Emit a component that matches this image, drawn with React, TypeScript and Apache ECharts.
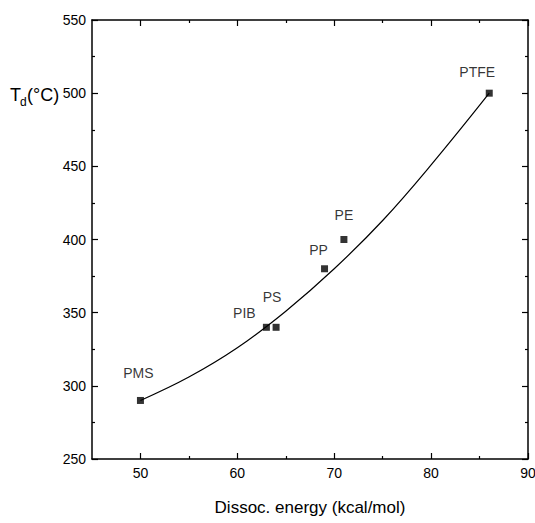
import React, { useEffect, useRef } from "react";
import * as echarts from "echarts";

const polymers = ["PMS", "PIB", "PS", "PP", "PE", "PTFE"];
const dissocEnergy = [50, 63, 64, 69, 71, 86];
const decompTemp = [290, 340, 340, 380, 400, 500];

const fitEnergy = [50, 55, 60, 65, 70, 75, 80, 86];
const fitTemp = [290, 306, 326, 351, 380, 413, 451, 500];

const xMajorTicks = [50, 60, 70, 80, 90];
const xMinorTicks = [55, 65, 75, 85];
const yMajorTicks = [250, 300, 350, 400, 450, 500, 550];
const yMinorTicks = [275, 325, 375, 425, 475, 525];

// label placement offsets (style only)
const labelOffsets: [number, number][] = [
  [-2, -27],
  [-22, -14],
  [-4, -30],
  [-6, -19],
  [0, -25],
  [-12, -21],
];

const FONT = '"Liberation Sans", Arial, Helvetica, sans-serif';

function makeX(position: "top" | "bottom", ticks: number[], len: number, showLine: boolean, showLabel: boolean) {
  return {
    type: "value",
    position,
    min: 45,
    max: 90,
    axisLine: { show: showLine, onZero: false, lineStyle: { color: "#000", width: 1.5 } },
    axisTick: { show: true, inside: true, length: len, customValues: ticks, lineStyle: { color: "#000", width: 1.2 } },
    axisLabel: {
      show: showLabel,
      customValues: ticks,
      color: "#000",
      fontFamily: FONT,
      fontSize: 14,
      margin: 7,
    },
    splitLine: { show: false },
  };
}

function makeY(position: "left" | "right", ticks: number[], len: number, showLine: boolean, showLabel: boolean) {
  return {
    type: "value",
    position,
    min: 250,
    max: 550,
    axisLine: { show: showLine, onZero: false, lineStyle: { color: "#000", width: 1.5 } },
    axisTick: { show: true, inside: true, length: len, customValues: ticks, lineStyle: { color: "#000", width: 1.2 } },
    axisLabel: {
      show: showLabel,
      customValues: ticks,
      color: "#000",
      fontFamily: FONT,
      fontSize: 14,
      margin: 6,
    },
    splitLine: { show: false },
  };
}

export default function App() {
  const ref = useRef<HTMLDivElement>(null);

  useEffect(() => {
    if (!ref.current) return;
    const chart = echarts.init(ref.current, null, { renderer: "svg" });

    const xAxes: any[] = [
      { ...makeX("bottom", xMajorTicks, 6, true, true), name: "Dissoc. energy (kcal/mol)", nameLocation: "middle", nameGap: 40, nameTextStyle: { color: "#000", fontFamily: FONT, fontSize: 17 } },
      makeX("bottom", xMinorTicks, 3, false, false),
      makeX("top", xMajorTicks, 6, true, false),
      makeX("top", xMinorTicks, 3, false, false),
    ];
    const yAxes: any[] = [
      makeY("left", yMajorTicks, 6, true, true),
      makeY("left", yMinorTicks, 3, false, false),
      makeY("right", yMajorTicks, 6, true, false),
      makeY("right", yMinorTicks, 3, false, false),
    ];

    const scatterData = polymers.map((name, i) => ({
      name,
      value: [dissocEnergy[i], decompTemp[i]],
      label: {
        show: true,
        position: [3.5, 3.5],
        align: "center",
        verticalAlign: "middle",
        offset: labelOffsets[i],
        color: "#000",
      },
    }));

    const fitData = fitEnergy.map((x, i) => [x, fitTemp[i]]);

    chart.setOption({
      animation: false,
      backgroundColor: "#fff",
      grid: { left: 92, right: 7, top: 20, bottom: 64, containLabel: false, outerBoundsMode: "none" },
      xAxis: xAxes,
      yAxis: yAxes,
      graphic: [
        { type: "text", left: 10, top: 86, style: { text: "T", fill: "#000", font: `18px ${FONT}` } },
        { type: "text", left: 20, top: 96, style: { text: "d", fill: "#000", font: `12px ${FONT}` } },
        { type: "text", left: 27, top: 86, style: { text: "(°C)", fill: "#000", font: `18px ${FONT}` } },
      ],
      series: [
        {
          type: "line",
          data: fitData,
          smooth: 0.4,
          showSymbol: false,
          symbol: "none",
          xAxisIndex: 0,
          yAxisIndex: 0,
          lineStyle: { color: "#000", width: 1.2 },
          z: 2,
        },
        {
          type: "scatter",
          data: scatterData,
          symbol: "rect",
          symbolSize: 7,
          xAxisIndex: 0,
          yAxisIndex: 0,
          itemStyle: { color: "#000" },
          label: {
            show: true,
            formatter: "{b}",
            color: "#000",
            textBorderWidth: 0,
            fontFamily: FONT,
            fontSize: 14,
          },
          z: 3,
        },
      ],
    });

    return () => chart.dispose();
  }, []);

  return (
    <div
      ref={ref}
      style={{ position: "absolute", left: 0, top: 0, width: 535, height: 523 }}
    />
  );
}
